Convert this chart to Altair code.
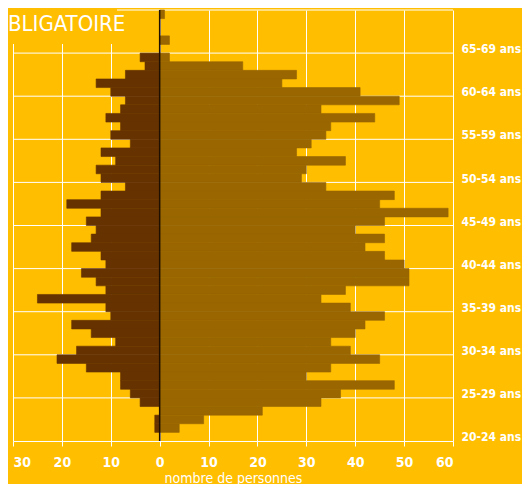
import altair as alt
import pandas as pd

# ---- data (one row per age, top = oldest) ----
ages = list(range(69, 19, -1))
left_values = [0, 0, 0, 0, 0, 4, 3, 7, 13, 10,
               7, 8, 11, 8, 10, 6, 12, 9, 13, 12,
               7, 12, 19, 12, 15, 13, 14, 18, 12, 11,
               16, 13, 11, 25, 11, 10, 18, 14, 9, 17,
               21, 15, 8, 8, 6, 4, 0, 1, 1, 0]
right_values = [1, 0, 0, 2, 0, 2, 17, 28, 25, 41,
                49, 33, 44, 35, 34, 31, 28, 38, 30, 29,
                34, 48, 45, 59, 46, 40, 46, 42, 46, 50,
                51, 51, 38, 33, 39, 46, 42, 40, 35, 39,
                45, 35, 30, 48, 37, 33, 21, 9, 4, 0]
band_edges = [25, 30, 35, 40, 45, 50, 55, 60, 65, 70]
label_positions = [20.5, 25.5, 30.5, 35.5, 40.5, 45.5, 50.5, 55.5, 60.5, 65.5]
x_ticks = [-30, -20, -10, 0, 10, 20, 30, 40, 50, 60]
title_text = "BLIGATOIRE"
x_title = "nombre de personnes"

BG = "#FFBE00"
LEFT_C = "#663300"
RIGHT_C = "#996600"
FONT = "Liberation Sans Narrow, DejaVu Sans Condensed, Roboto, sans-serif"

rows = []
for a, lv, rv in zip(ages, left_values, right_values):
    rows.append({"age": a, "age_top": a + 1, "v": -lv, "zero": 0, "side": "gauche"})
    rows.append({"age": a, "age_top": a + 1, "v": rv, "zero": 0, "side": "droite"})
df = pd.DataFrame(rows)

x_scale = alt.Scale(domain=[-30, 60], nice=False, zero=False)
y_scale = alt.Scale(domain=[20, 70], nice=False, zero=False)
side_scale = alt.Scale(domain=["gauche", "droite"], range=[LEFT_C, RIGHT_C])

y_axis = alt.Axis(
    orient="right",
    values=label_positions,
    labelExpr="floor(datum.value) + '-' + (floor(datum.value) + 4) + ' ans'",
    grid=False,
    domain=False,
    ticks=False,
    labelPadding=8,
    labelColor="white",
    labelFont=FONT,
    labelFontSize=12,
    labelFontWeight="bold",
    labelAlign="left",
    title=None,
)

x_axis = alt.Axis(
    values=x_ticks,
    labelExpr="abs(datum.value)",
    title=x_title,
    grid=True,
    gridColor="white",
    gridWidth=1,
    gridOpacity=1,
    domainColor="white",
    tickColor="white",
    tickSize=5,
    labelPadding=9,
    labelColor="white",
    labelFont=FONT,
    labelFontSize=14,
    labelFontWeight="bold",
    titleColor="white",
    titleFont=FONT,
    titleFontSize=14,
    titleFontWeight="normal",
    titlePadding=2,
)

grid_rules = alt.Chart(pd.DataFrame({"b": band_edges})).mark_rule(
    color="white", strokeWidth=1
).encode(y=alt.Y("b:Q", scale=y_scale, axis=y_axis))

title_box = alt.Chart(pd.DataFrame({"a": [0]})).mark_rect(color=BG).encode(
    x=alt.value(-13), x2=alt.value(104), y=alt.value(-10), y2=alt.value(34)
)

bars = alt.Chart(df).mark_bar(strokeWidth=0.6).encode(
    x=alt.X("v:Q", scale=x_scale, axis=x_axis),
    x2="zero:Q",
    y=alt.Y("age:Q", scale=y_scale, axis=y_axis),
    y2="age_top:Q",
    color=alt.Color("side:N", scale=side_scale, legend=None),
    stroke=alt.Stroke("side:N", scale=side_scale, legend=None),
)

zero_line = alt.Chart(pd.DataFrame({"x": [0]})).mark_rule(
    color="#1e0f00", strokeWidth=1.5
).encode(x=alt.X("x:Q", scale=x_scale, axis=x_axis))

title = alt.Chart(pd.DataFrame({"t": [title_text]})).mark_text(
    align="left", baseline="alphabetic", color="white", font=FONT, fontSize=22
).encode(x=alt.value(-5), y=alt.value(21), text="t:N")

chart = alt.layer(grid_rules, title_box, bars, zero_line, title).properties(
    width=440,
    height=431,
    background=BG,
    padding={"left": 5, "top": 2, "right": 69, "bottom": 43},
    autosize=alt.AutoSizeParams(type="none"),
).configure_view(stroke=None)

chart.save("out.html", embed_options={"renderer": "svg", "actions": False})
